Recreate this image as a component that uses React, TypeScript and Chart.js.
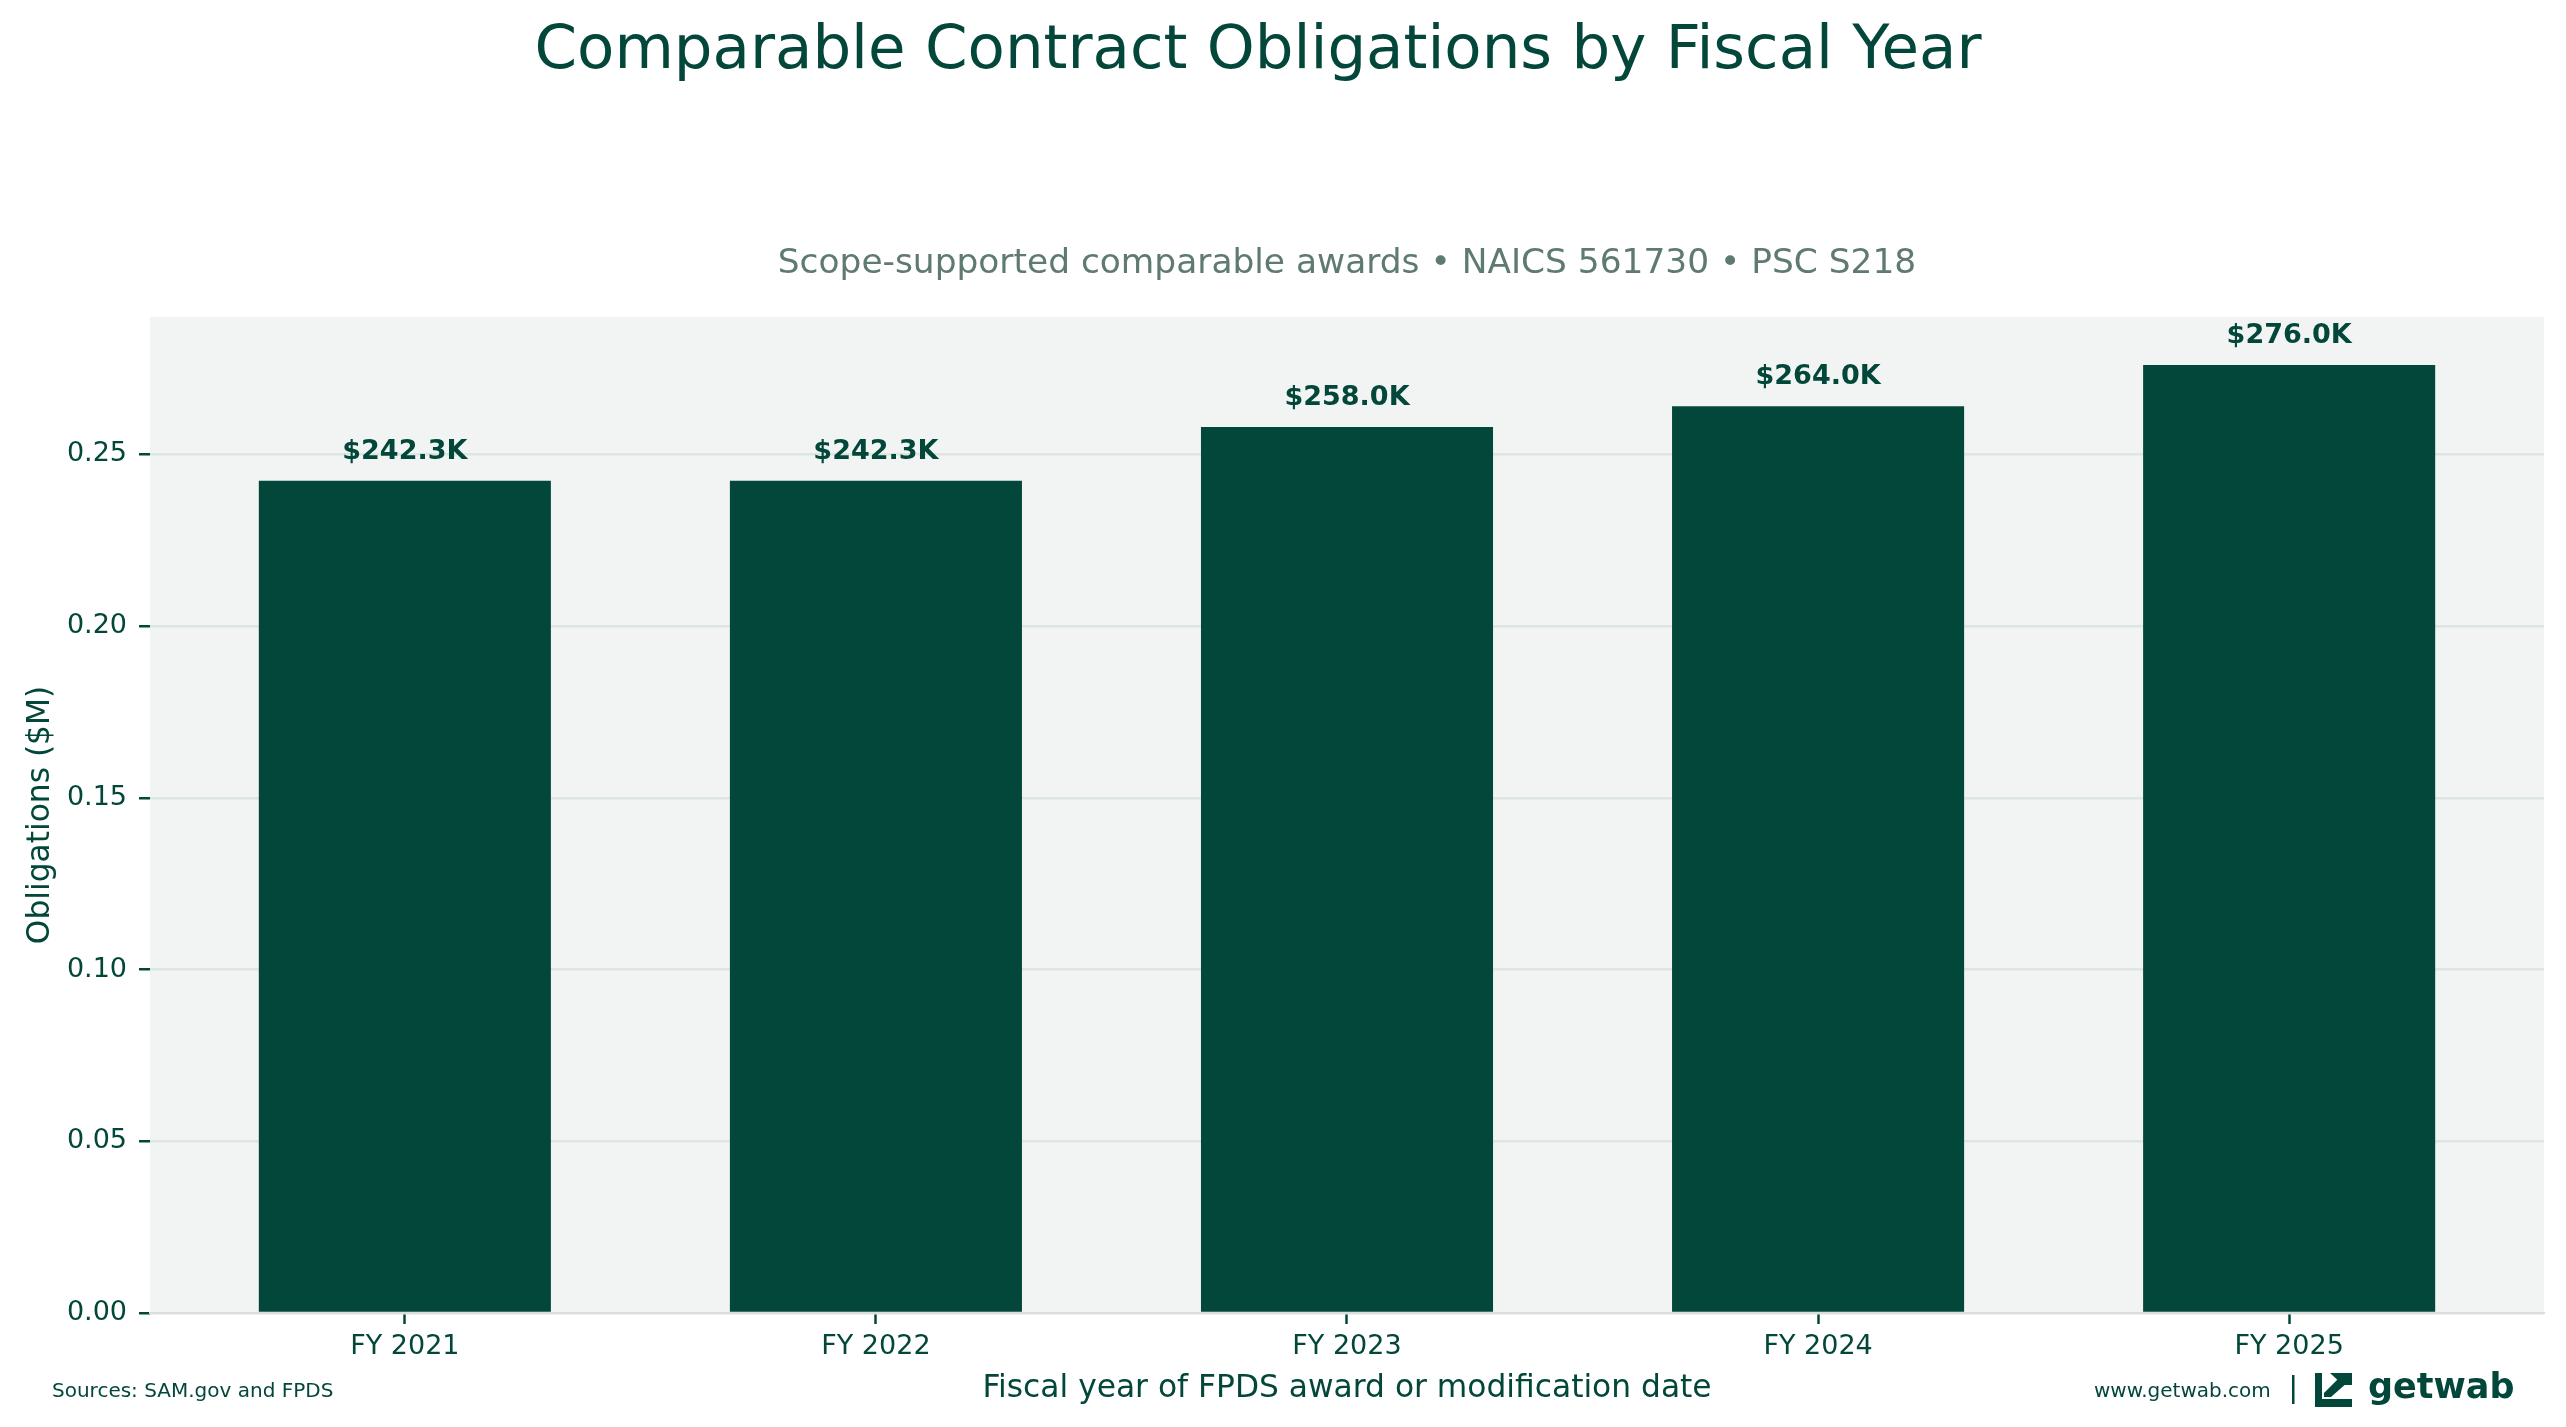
import { Chart, registerables } from 'chart.js';
import { useEffect, useRef } from 'react';

Chart.register(...registerables);

const fiscalYears = ['FY 2021', 'FY 2022', 'FY 2023', 'FY 2024', 'FY 2025'];
const obligations = [0.2423, 0.2423, 0.258, 0.264, 0.276]; // $M
const yTicks = [0, 0.05, 0.1, 0.15, 0.2, 0.25];

const DARK = '#03473A';
const FONT = "'DejaVu Sans', sans-serif";

const W = 2566;
const H = 1427;

// background of plot area + white page
const backgroundPlugin = {
  id: 'bg',
  beforeDraw(chart: any) {
    const { ctx, chartArea } = chart;
    ctx.save();
    ctx.fillStyle = '#ffffff';
    ctx.fillRect(0, 0, chart.width, chart.height);
    ctx.fillStyle = '#F1F4F3';
    ctx.fillRect(chartArea.left, chartArea.top, chartArea.right - chartArea.left, chartArea.bottom - chartArea.top);
    ctx.restore();
  },
};

// value labels above the bars
const valueLabels = {
  id: 'valueLabels',
  afterDatasetsDraw(chart: any) {
    const { ctx } = chart;
    const meta = chart.getDatasetMeta(0);
    ctx.save();
    ctx.font = `bold 27px ${FONT}`;
    ctx.fillStyle = DARK;
    ctx.textAlign = 'center';
    ctx.textBaseline = 'alphabetic';
    meta.data.forEach((bar: any, i: number) => {
      const v = obligations[i];
      ctx.fillText('$' + (v * 1000).toFixed(1) + 'K', bar.x, bar.y - 22);
    });
    ctx.restore();
  },
};

// titles, footer and logo
const annotations = {
  id: 'annotations',
  afterDraw(chart: any) {
    const { ctx, chartArea } = chart;
    const cx = (chartArea.left + chartArea.right) / 2;
    const cy = (chartArea.top + chartArea.bottom) / 2;
    ctx.save();
    ctx.fillStyle = DARK;
    ctx.textBaseline = 'alphabetic';

    ctx.textAlign = 'center';
    ctx.font = `61px ${FONT}`;
    ctx.fillText('Comparable Contract Obligations by Fiscal Year', 1258, 68);

    ctx.fillStyle = '#5F7A71';
    ctx.font = `34.4px ${FONT}`;
    ctx.fillText('Scope-supported comparable awards \u2022 NAICS 561730 \u2022 PSC S218', cx, 273);

    ctx.fillStyle = DARK;
    ctx.font = `31.3px ${FONT}`;
    ctx.fillText('Fiscal year of FPDS award or modification date', cx, 1397);

    ctx.save();
    ctx.translate(49, cy);
    ctx.rotate(-Math.PI / 2);
    ctx.fillText('Obligations ($M)', 0, 0);
    ctx.restore();

    ctx.textAlign = 'left';
    ctx.font = `20px ${FONT}`;
    ctx.fillText('Sources: SAM.gov and FPDS', 52, 1397);
    ctx.fillText('www.getwab.com', 2094, 1397);

    // separator
    ctx.fillRect(2292, 1375, 2.5, 29);

    // logo mark
    const lx = 2315, ly = 1373, lw = 37, lh = 34;
    ctx.fillRect(lx, ly, 7, lh);
    ctx.fillRect(lx, ly + lh - 8, lw, 8);
    ctx.beginPath();
    ctx.moveTo(lx + 15, ly);
    ctx.lineTo(lx + lw, ly);
    ctx.lineTo(lx + lw, ly + 12);
    ctx.lineTo(lx + 28, ly + 12);
    ctx.closePath();
    ctx.fill();
    ctx.beginPath();
    ctx.moveTo(lx + 9, ly + 20);
    ctx.lineTo(lx + 26, ly + 3);
    ctx.lineTo(lx + 33, ly + 9);
    ctx.lineTo(lx + 16, ly + 24);
    ctx.lineTo(lx + 9, ly + 24);
    ctx.closePath();
    ctx.fill();

    ctx.font = `bold 35px ${FONT}`;
    ctx.fillText('getwab', 2368, 1398);
    ctx.restore();
  },
};

export default function App() {
  const chartRef = useRef<HTMLCanvasElement | null>(null);

  useEffect(() => {
    const ctx = chartRef.current?.getContext('2d');
    if (!ctx) return;

    const chart = new Chart(ctx, {
      type: 'bar',
      data: {
        datasets: [
          {
            data: obligations.map((v, i) => ({ x: i, y: v })),
            backgroundColor: DARK,
            borderWidth: 0,
            barPercentage: 0.62,
            categoryPercentage: 1,
          },
        ],
      },
      options: {
        responsive: false,
        devicePixelRatio: 1,
        animation: false,
        layout: { padding: { top: 317, right: 22, left: 0, bottom: 0 } },
        plugins: {
          legend: { display: false },
          tooltip: { enabled: false },
        },
        scales: {
          x: {
            type: 'linear',
            offset: false,
            min: -0.541,
            max: fiscalYears.length - 1 + 0.541,
            afterBuildTicks: (scale: any) => {
              scale.ticks = fiscalYears.map((_, i) => ({ value: i }));
            },
            afterFit: (scale: any) => {
              scale.height = 114;
            },
            ticks: {
              callback: (v: any) => fiscalYears[v as number] ?? '',
              color: DARK,
              font: { family: FONT, size: 27 },
              padding: 7,
              maxRotation: 0,
              autoSkip: false,
            },
            grid: {
              offset: false,
              drawOnChartArea: false,
              drawTicks: true,
              tickLength: 11,
              tickColor: DARK,
              tickWidth: 2.5,
            },
            border: { display: true, color: '#D9DEDC', width: 2 },
          },
          y: {
            min: 0,
            max: 0.29,
            afterBuildTicks: (scale: any) => {
              scale.ticks = yTicks.map((v) => ({ value: v }));
            },
            afterFit: (scale: any) => {
              scale.width = 150;
            },
            ticks: {
              callback: (v: any) => Number(v).toFixed(2),
              color: DARK,
              font: { family: FONT, size: 27 },
              padding: 12,
            },
            grid: {
              color: '#DDE6E2',
              lineWidth: 2.5,
              drawTicks: true,
              tickLength: 11,
              tickColor: DARK,
              tickWidth: 2.5,
            },
            border: { display: false },
          },
        },
      },
      plugins: [backgroundPlugin, valueLabels, annotations],
    });

    return () => {
      chart.destroy();
    };
  }, []);

  return (
    <div style={{ position: 'absolute', left: 0, top: 0, width: W, height: H }}>
      <canvas ref={chartRef} width={W} height={H} style={{ display: 'block' }}></canvas>
    </div>
  );
}
